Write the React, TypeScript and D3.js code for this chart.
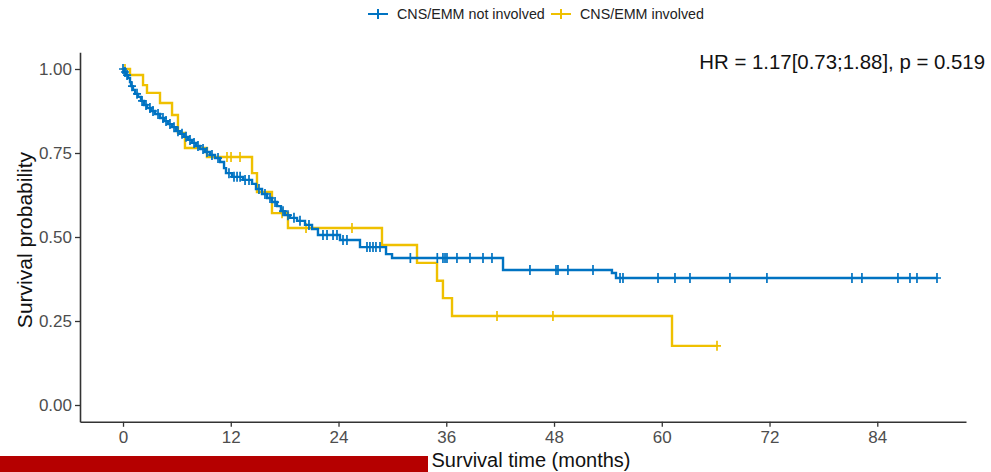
import React, { useEffect, useRef } from 'react';
import * as d3 from 'd3';

// Kaplan-Meier steps (time in months, survival)
const notInvolvedTimes = [0, 0.11, 0.33, 0.56, 0.78, 0.89, 1.11, 1.34, 1.67, 2.0, 2.34, 2.67, 3.12, 3.56, 4.12, 4.57, 5.01, 5.46, 5.9, 6.35, 6.79, 7.24, 7.68, 8.13, 8.57, 9.13, 9.69, 10.24, 10.8, 11.25, 11.47, 12.14, 13.36, 14.37, 14.81, 15.48, 16.04, 16.59, 17.15, 17.59, 18.04, 18.6, 19.38, 20.27, 21.05, 21.71, 24.16, 26.39, 29.29, 29.96, 42.32, 54.45, 54.9];
const notInvolvedSurv = [1.0, 0.991, 0.982, 0.973, 0.961, 0.949, 0.938, 0.926, 0.917, 0.905, 0.893, 0.884, 0.875, 0.866, 0.854, 0.845, 0.836, 0.827, 0.815, 0.807, 0.798, 0.789, 0.78, 0.771, 0.762, 0.753, 0.744, 0.735, 0.723, 0.705, 0.69, 0.679, 0.67, 0.658, 0.643, 0.628, 0.616, 0.604, 0.592, 0.577, 0.565, 0.557, 0.548, 0.536, 0.524, 0.506, 0.491, 0.47, 0.449, 0.4375, 0.402, 0.393, 0.378];
const notInvolvedEnd = 90.65;
const notInvolvedCensored = [0.0, 0.22, 0.45, 1.0, 1.56, 2.12, 2.56, 3.0, 3.34, 3.9, 4.45, 4.79, 5.23, 5.68, 6.12, 6.57, 7.02, 7.46, 7.91, 8.35, 8.91, 9.35, 9.91, 10.58, 11.8, 12.36, 12.7, 13.04, 13.59, 14.03, 15.14, 15.81, 16.37, 16.93, 17.82, 18.37, 19.04, 19.71, 20.71, 22.27, 22.72, 23.39, 23.83, 24.5, 24.94, 27.17, 27.5, 27.84, 28.17, 28.62, 32.0, 35.0, 35.63, 35.86, 36.08, 37.19, 38.64, 40.09, 41.09, 45.32, 48.22, 48.44, 49.55, 52.34, 55.35, 55.68, 59.58, 61.47, 63.14, 67.59, 71.71, 81.18, 82.29, 86.3, 87.64, 88.42, 90.65];

const involvedTimes = [0, 0.78, 2.23, 2.67, 4.12, 5.46, 6.12, 6.9, 9.35, 14.37, 14.92, 16.59, 18.37, 28.84, 32.74, 34.97, 35.63, 36.64, 61.14];
const involvedSurv = [1.0, 0.982, 0.952, 0.929, 0.899, 0.863, 0.81, 0.765, 0.738, 0.69, 0.634, 0.571, 0.527, 0.476, 0.423, 0.37, 0.318, 0.265, 0.176];
const involvedEnd = 66.15;
const involvedCensored = [0.22, 11.58, 12.03, 13.03, 17.71, 20.38, 25.5, 41.65, 47.88, 66.15];

const groupNames = ['CNS/EMM not involved', 'CNS/EMM involved'];
const groupColors = ['#0073C2', '#EFC000'];
const xTicks = [0, 12, 24, 36, 48, 60, 72, 84];
const yTicks = [0, 0.25, 0.5, 0.75, 1];
const hrLabel = 'HR = 1.17[0.73;1.88], p = 0.519';

const W = 991;
const H = 472;

function App() {
  const ref = useRef<SVGSVGElement>(null);

  useEffect(() => {
    const svg = d3.select(ref.current);
    svg.selectAll('*').remove();
    const font = '"Liberation Sans", Arial, sans-serif';

    const x = d3.scaleLinear().domain([-4.79, 93.88]).range([80, 966]);
    const y = d3.scaleLinear().domain([-0.05, 1.05]).range([421.8, 52.2]);

    svg.append('rect').attr('width', W).attr('height', H).attr('fill', '#fff');

    const groups = [
      { times: notInvolvedTimes, surv: notInvolvedSurv, end: notInvolvedEnd, cens: notInvolvedCensored, color: groupColors[0] },
      { times: involvedTimes, surv: involvedSurv, end: involvedEnd, cens: involvedCensored, color: groupColors[1] },
    ];

    const line = d3.line<[number, number]>()
      .x(d => x(d[0]))
      .y(d => y(d[1]))
      .curve(d3.curveStepAfter);

    // yellow first so blue sits on top, as in the reference
    [groups[1], groups[0]].forEach(g => {
      const pts: [number, number][] = g.times.map((t, i) => [t, g.surv[i]]);
      pts.push([g.end, g.surv[g.surv.length - 1]]);
      svg.append('path')
        .attr('d', line(pts))
        .attr('fill', 'none')
        .attr('stroke', g.color)
        .attr('stroke-width', 2.4);

      const survAt = (t: number) => {
        let s = g.surv[0];
        g.times.forEach((tt, i) => { if (tt <= t) s = g.surv[i]; });
        return s;
      };
      svg.append('g').selectAll('path')
        .data(g.cens)
        .enter()
        .append('path')
        .attr('d', t => {
          const cx = x(t), cy = y(survAt(t));
          return `M${cx - 4},${cy}H${cx + 4}M${cx},${cy - 5}V${cy + 5}`;
        })
        .attr('stroke', g.color)
        .attr('stroke-width', 1.7)
        .attr('fill', 'none');
    });

    // y axis
    const yAxis = svg.append('g')
      .attr('transform', 'translate(80,0)')
      .call(d3.axisLeft(y).tickValues(yTicks).tickFormat(d3.format('.2f')).tickSize(5).tickSizeOuter(0).tickPadding(3));
    // x axis
    const xAxis = svg.append('g')
      .attr('transform', 'translate(0,421.8)')
      .call(d3.axisBottom(x).tickValues(xTicks).tickFormat(d3.format('d')).tickSize(5).tickSizeOuter(0).tickPadding(4));

    [yAxis, xAxis].forEach(a => {
      a.select('.domain').attr('stroke', '#333').attr('stroke-width', 1.6);
      a.selectAll('.tick line').attr('stroke', '#333').attr('stroke-width', 1.3);
      a.selectAll('.tick text')
        .attr('fill', '#4d4d4d')
        .style('font-family', font)
        .style('font-size', '17px');
    });

    // axis titles
    svg.append('text')
      .attr('transform', 'translate(32,240) rotate(-90)')
      .attr('text-anchor', 'middle')
      .style('font-family', font)
      .style('font-size', '21px')
      .attr('fill', '#111')
      .text('Survival probability');

    svg.append('text')
      .attr('x', 531)
      .attr('y', 467)
      .attr('text-anchor', 'middle')
      .style('font-family', font)
      .style('font-size', '20px')
      .attr('fill', '#111')
      .text('Survival time (months)');

    // red bar at the bottom-left
    svg.append('rect')
      .attr('x', 0).attr('y', 456)
      .attr('width', 428).attr('height', 16)
      .attr('fill', '#b50000');

    // HR annotation
    svg.append('text')
      .attr('x', 985)
      .attr('y', 69)
      .attr('text-anchor', 'end')
      .style('font-family', font)
      .style('font-size', '20.4px')
      .attr('fill', '#111')
      .text(hrLabel);

    // legend
    const legendX = [378, 561];
    groupNames.forEach((name, i) => {
      const lg = svg.append('g').attr('transform', `translate(${legendX[i]},14)`);
      lg.append('path')
        .attr('d', 'M-10,0H10M0,-5V5')
        .attr('stroke', groupColors[i])
        .attr('stroke-width', 2);
      lg.append('text')
        .attr('x', 19)
        .attr('y', 5)
        .style('font-family', font)
        .style('font-size', '14.3px')
        .attr('fill', '#222')
        .text(name);
    });
  }, []);

  return (
    <svg ref={ref} width={W} height={H} style={{ position: 'absolute', left: 0, top: 0 }}></svg>
  );
}

export default App;
